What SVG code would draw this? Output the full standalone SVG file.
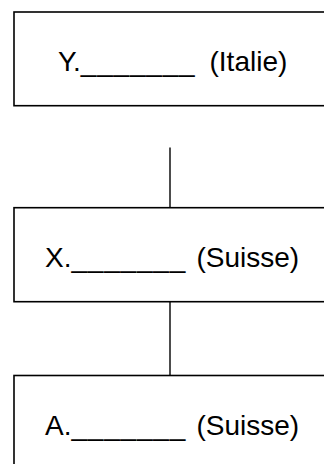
<svg xmlns="http://www.w3.org/2000/svg" width="324" height="464" viewBox="0 0 324 464">
<style>
.box{fill:#fff;stroke:#000;stroke-width:1.6}
.lbl{font-family:"Liberation Sans",Arial,sans-serif;font-size:28px;fill:#000}
.ul{letter-spacing:0.8px}
.conn{stroke:#000;stroke-width:1.4;fill:none}
</style>
<rect width="324" height="464" fill="#fff"/>
<g id="connectors">
<line class="conn" x1="170" y1="147.5" x2="170" y2="207.7"/>
<line class="conn" x1="170" y1="301.7" x2="170" y2="375.5"/>
</g>
<g id="node-y">
<rect class="box" x="14" y="12" width="330" height="93.7"/>
<text class="lbl" x="58" y="71">Y.<tspan class="ul">_______</tspan><tspan x="209.5">(Italie)</tspan></text>
</g>
<g id="node-x">
<rect class="box" x="14" y="207.7" width="330" height="94"/>
<text class="lbl" x="45" y="266.7">X.<tspan class="ul">_______</tspan><tspan x="196.5">(Suisse)</tspan></text>
</g>
<g id="node-a">
<rect class="box" x="14" y="375.5" width="330" height="120"/>
<text class="lbl" x="45" y="434.5">A.<tspan class="ul">_______</tspan><tspan x="196.5">(Suisse)</tspan></text>
</g>
</svg>
